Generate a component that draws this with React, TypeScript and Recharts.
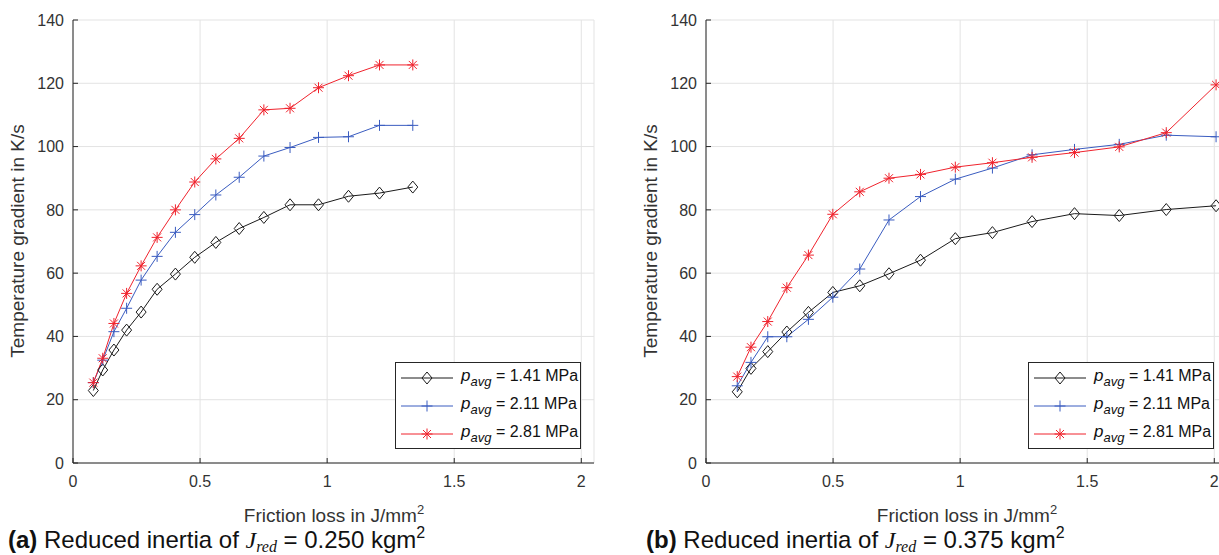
import React from 'react';
import { LineChart, Line, XAxis, YAxis, CartesianGrid } from 'recharts';

// (a) J_red = 0.250 kgm^2
const frictionA = [0.080, 0.117, 0.161, 0.211, 0.268, 0.331, 0.403, 0.479, 0.562, 0.654, 0.751, 0.854, 0.966, 1.084, 1.206, 1.337];
const p141A = [22.9, 29.4, 35.7, 42.0, 47.7, 54.9, 59.7, 65.0, 69.7, 74.1, 77.6, 81.6, 81.6, 84.3, 85.3, 87.2];
const p211A = [25.4, 32.5, 41.5, 48.9, 57.8, 65.3, 72.9, 78.5, 84.7, 90.3, 97.0, 99.7, 102.9, 103.1, 106.7, 106.7];
const p281A = [25.4, 33.1, 44.1, 53.6, 62.3, 71.3, 80.0, 88.8, 96.1, 102.6, 111.6, 112.1, 118.6, 122.4, 125.8, 125.8];

// (b) J_red = 0.375 kgm^2
const frictionB = [0.123, 0.177, 0.243, 0.318, 0.403, 0.499, 0.605, 0.720, 0.844, 0.981, 1.127, 1.283, 1.450, 1.626, 1.811, 2.007];
const p141B = [22.5, 29.9, 35.2, 41.4, 47.6, 53.9, 56.0, 59.8, 64.1, 70.9, 72.8, 76.3, 78.8, 78.2, 80.1, 81.3];
const p211B = [24.4, 31.8, 39.9, 39.9, 45.4, 52.4, 61.3, 76.8, 84.2, 89.7, 93.2, 97.4, 99.1, 100.7, 103.6, 103.1];
const p281B = [27.3, 36.6, 44.7, 55.4, 65.7, 78.6, 85.7, 90.0, 91.2, 93.5, 94.9, 96.6, 98.1, 99.9, 104.4, 119.5];

const xTicks = [0, 0.5, 1, 1.5, 2];
const yTicks = [0, 20, 40, 60, 80, 100, 120, 140];
const pressures = ['1.41', '2.11', '2.81'];

const FONT = '"Liberation Sans", Arial, Helvetica, sans-serif';
const AXIS = '#262626';
const TXT = '#333';
const GRID = '#e3e3e3';

type MarkerProps = { cx?: number; cy?: number; color: string };

const Diamond = ({ cx = 0, cy = 0, color }: MarkerProps) => (
  <polygon
    points={`${cx},${cy - 6} ${cx + 5},${cy} ${cx},${cy + 6} ${cx - 5},${cy}`}
    fill="none"
    stroke={color}
    strokeWidth={1}
  />
);

const Plus = ({ cx = 0, cy = 0, color }: MarkerProps) => (
  <path d={`M${cx - 5.5},${cy}H${cx + 5.5}M${cx},${cy - 5.5}V${cy + 5.5}`} stroke={color} strokeWidth={1} fill="none" />
);

const Star = ({ cx = 0, cy = 0, color }: MarkerProps) => (
  <path
    d={`M${cx - 5.5},${cy}H${cx + 5.5}M${cx},${cy - 5.5}V${cy + 5.5}M${cx - 4},${cy - 4}L${cx + 4},${cy + 4}M${cx - 4},${cy + 4}L${cx + 4},${cy - 4}`}
    stroke={color}
    strokeWidth={1}
    fill="none"
  />
);

const series = [
  { key: 'p141', color: '#1a1a1a', Marker: Diamond },
  { key: 'p211', color: '#3a5cc0', Marker: Plus },
  { key: 'p281', color: '#f0232d', Marker: Star },
];

function LegendBox() {
  return (
    <div
      style={{
        position: 'absolute',
        left: 395,
        top: 362,
        width: 184,
        height: 85,
        border: `1px solid ${AXIS}`,
        background: '#fff',
        fontFamily: FONT,
        color: '#111',
      }}
    >
      {series.map((s, i) => (
        <div key={s.key} style={{ position: 'absolute', left: 0, top: 5 + i * 28, height: 24, display: 'flex', alignItems: 'center' }}>
          <svg width={62} height={24} style={{ display: 'block' }}>
            <line x1={5} y1={10} x2={57} y2={10} stroke={s.color} strokeWidth={1} />
            <s.Marker cx={31} cy={10} color={s.color} />
          </svg>
          <span style={{ marginLeft: 3, fontSize: 16, whiteSpace: 'nowrap', lineHeight: '20px', marginTop: -2 }}>
            <i style={{ fontSize: 17 }}>p</i>
            <sub style={{ fontSize: 13, fontStyle: 'italic', verticalAlign: -5 }}>avg</sub>
            {` = ${pressures[i]} MPa`}
          </span>
        </div>
      ))}
    </div>
  );
}

function Panel({ x, a, b, c, left }: { x: number[]; a: number[]; b: number[]; c: number[]; left: number }) {
  const data = x.map((v, i) => ({ x: v, p141: a[i], p211: b[i], p281: c[i] }));
  return (
    <div style={{ position: 'absolute', left, top: 0, width: 600, height: 500 }}>
      <LineChart width={600} height={500} data={data} margin={{ top: 20, right: 6, bottom: 0, left: 0 }}>
        <CartesianGrid stroke={GRID} strokeWidth={1} />
        <XAxis
          dataKey="x"
          type="number"
          domain={[0, 2.05]}
          ticks={xTicks}
          height={37}
          tickSize={-5}
          tickMargin={18}
          stroke={AXIS}
          tick={{ fill: TXT, fontSize: 16, fontFamily: FONT }}
        />
        <XAxis xAxisId="top" orientation="top" type="number" domain={[0, 2.05]} ticks={xTicks} height={0} tickSize={-5} tick={false} stroke={AXIS} />
        <YAxis
          type="number"
          domain={[0, 140]}
          ticks={yTicks}
          width={73}
          tickSize={-5}
          tickMargin={14}
          stroke={AXIS}
          tick={{ fill: TXT, fontSize: 16, fontFamily: FONT }}
        />
        <YAxis yAxisId="right" orientation="right" type="number" domain={[0, 140]} ticks={yTicks} width={0} tickSize={-5} tick={false} stroke={AXIS} />
        {series.map((s) => (
          <Line
            key={s.key}
            type="linear"
            dataKey={s.key}
            stroke={s.color}
            strokeWidth={1}
            isAnimationActive={false}
            activeDot={false}
            dot={(p: any) => <s.Marker key={`${s.key}-${p.index}`} cx={p.cx} cy={p.cy} color={s.color} />}
          />
        ))}
      </LineChart>
      <LegendBox />
      <div
        style={{
          position: 'absolute',
          left: 18,
          top: 241,
          transform: 'translate(-50%, -50%) rotate(-90deg)',
          whiteSpace: 'nowrap',
          fontFamily: FONT,
          fontSize: 19,
          color: TXT,
        }}
      >
        Temperature gradient in K/s
      </div>
      <div
        style={{
          position: 'absolute',
          left: 334,
          top: 516,
          transform: 'translate(-50%, -50%)',
          whiteSpace: 'nowrap',
          fontFamily: FONT,
          fontSize: 19,
          lineHeight: '22px',
          color: TXT,
        }}
      >
        Friction loss in J/mm<sup style={{ fontSize: 13, lineHeight: 0, verticalAlign: 8 }}>2</sup>
      </div>
    </div>
  );
}

function Caption({ tag, value, left }: { tag: string; value: string; left: number }) {
  return (
    <div
      style={{
        position: 'absolute',
        left,
        top: 527,
        whiteSpace: 'nowrap',
        fontFamily: FONT,
        fontSize: 24,
        color: '#111',
        lineHeight: '26px',
      }}
    >
      <b>({tag})</b> Reduced inertia of{' '}
      <span style={{ fontFamily: '"Liberation Serif", serif', fontStyle: 'italic' }}>
        J<sub style={{ fontSize: 16, lineHeight: 0, verticalAlign: -4 }}>red</sub>
      </span>{' '}
      = {value} kgm<sup style={{ fontSize: 16, lineHeight: 0, verticalAlign: 10 }}>2</sup>
    </div>
  );
}

export default function App() {
  return (
    <div style={{ position: 'absolute', left: 0, top: 0, width: 1219, height: 555, overflow: 'hidden', background: '#fff' }}>
      <Panel x={frictionA} a={p141A} b={p211A} c={p281A} left={0} />
      <Panel x={frictionB} a={p141B} b={p211B} c={p281B} left={633} />
      <Caption tag="a" value="0.250" left={8} />
      <Caption tag="b" value="0.375" left={646} />
    </div>
  );
}
